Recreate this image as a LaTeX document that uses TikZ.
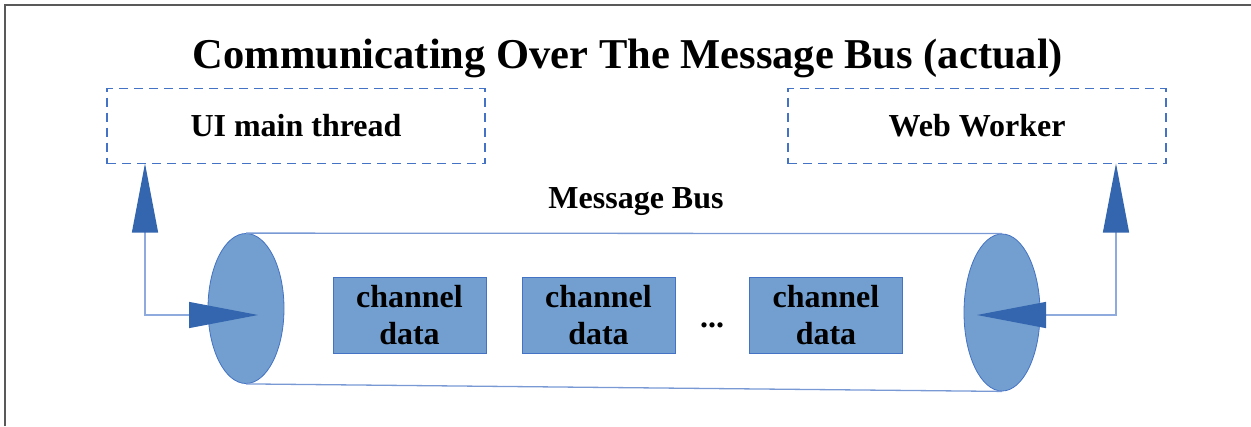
\documentclass[tikz,border=0pt]{standalone}
\usepackage{fontspec}
\setmainfont{Liberation Serif}
\usetikzlibrary{shapes.geometric,arrows.meta}
\definecolor{busfill}{HTML}{729FCF}
\definecolor{busedge}{HTML}{4472C4}
\definecolor{tipblue}{HTML}{3465AF}
\definecolor{linkblue}{HTML}{8FAADC}
\definecolor{framegrey}{HTML}{595959}
\tikzset{
    threadbox/.style={draw=busedge, dash pattern=on 9pt off 6pt, line width=1.1pt,
        minimum width=378pt, minimum height=75pt, inner sep=0pt,
        font=\fontsize{32}{37}\selectfont\bfseries},
    chanbox/.style={draw=busedge, fill=busfill, line width=1pt,
        minimum width=153pt, minimum height=76pt, inner sep=0pt, align=center,
        font=\fontsize{32}{37}\selectfont\bfseries},
    busend/.style={ellipse, draw=busedge, fill=busfill, line width=0.8pt,
        inner sep=0pt, minimum width=76pt},
    busline/.style={draw=linkblue!70!busedge, line width=1.3pt},
    link/.style={draw=linkblue, line width=1.2pt,
        {Triangle[length=69pt,width=26pt,color=tipblue]}-{Triangle[length=69pt,width=26pt,color=tipblue]}},
}
\begin{document}
\begin{tikzpicture}[x=1pt, y=-1pt]
    \useasboundingbox (0,0) rectangle (1251,426);
    \draw[framegrey, line width=1.5pt] (5,426) -- (5,5) -- (1251,5);

    \node[anchor=base, font=\fontsize{42.5}{48}\selectfont\bfseries] (title) at (628,68)
        {Communicating Over The Message Bus (actual)};

    % the two threads
    \node[threadbox] (ui) at (296,126) {UI main thread};
    \node[threadbox] (worker) at (977,126) {Web Worker};

    % the bus
    \node[anchor=base, font=\fontsize{32}{37}\selectfont\bfseries] (buslabel) at (636,208) {Message Bus};
    \node[busend, minimum height=150pt] (lend) at (246,308.5) {};
    \node[busend, minimum height=157pt] (rend) at (1002,312.5) {};
    \draw[busline] (lend.north) -- (rend.north);
    \draw[busline] (lend.south) -- (rend.south);

    \node[chanbox] (chan1) at (409.5,315) {channel\\data};
    \node[chanbox] (chan2) at (598.5,315) {channel\\data};
    \node[anchor=base, font=\fontsize{32}{37}\selectfont\bfseries] (dots) at (712,327) {...};
    \node[chanbox] (chan3) at (826,315) {channel\\data};

    % connectors
    \coordinate (uiport) at (145,163.5);
    \coordinate (lin) at (258,315);
    \coordinate (wport) at (1116,163.5);
    \coordinate (rin) at (977,315);
    \draw[link] (uiport) |- (lin);
    \draw[link] (wport) |- (rin);
\end{tikzpicture}
\end{document}
